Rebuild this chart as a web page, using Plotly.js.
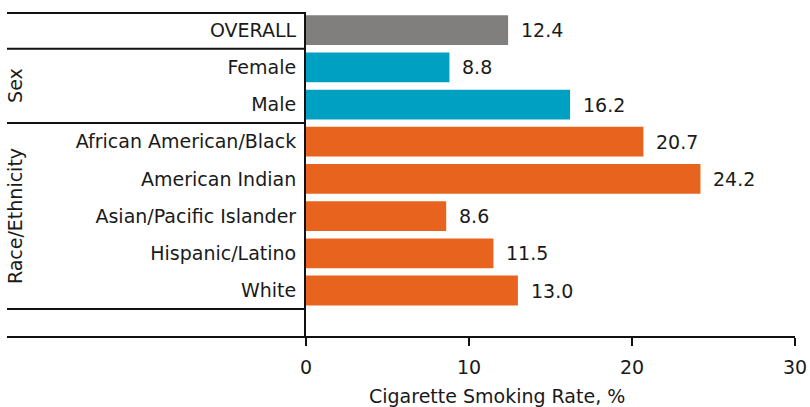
<!DOCTYPE html>
<html>
<head>
<meta charset="utf-8">
<script src="https://cdn.plot.ly/plotly-3.0.1.min.js"></script>
<style>
  html, body { margin: 0; padding: 0; background: #fff; }
  #chart { width: 810px; height: 407px; }
</style>
</head>
<body>
<div id="chart"></div>
<script>
// Cigarette smoking rate by group
const categories = ["OVERALL", "Female", "Male", "African American/Black", "American Indian",
                    "Asian/Pacific Islander", "Hispanic/Latino", "White"];
const rates = [12.4, 8.8, 16.2, 20.7, 24.2, 8.6, 11.5, 13.0];
const groupOf = ["overall", "sex", "sex", "race", "race", "race", "race", "race"];
const groupTitles = { sex: "Sex", race: "Race/Ethnicity" };
const xTicks = [0, 10, 20, 30];
const xTitle = "Cigarette Smoking Rate, %";

const palette = { overall: "#807f7d", sex: "#00a0c3", race: "#e8641e" };
const FONT = "DejaVu Sans, sans-serif";
const FS = 19;
const TXT = "#1a1a1a";

// y range in category index units (reversed so first row is on top)
const yTop = -0.46, yBottom = 8.25;
const yFrac = v => (yBottom - v) / (yBottom - yTop);

const plotLeft = 306, plotRight = 795;
const leftEdge = 7;
const xLeftPaper = (leftEdge - plotLeft) / (plotRight - plotLeft);

const idx = categories.map((_, i) => i);

const trace = {
  type: "bar",
  orientation: "h",
  y: idx,
  x: rates,
  width: 0.8,
  marker: { color: groupOf.map(g => palette[g]), line: { width: 0 } },
  hoverinfo: "skip"
};

// separators between groups (left panel) and outer frame lines
const lineStyle = { color: "#111", width: 2 };
const shapes = [];
[yTop, 0.5, 2.5, 7.5].forEach(v => {
  shapes.push({ type: "line", xref: "paper", yref: "paper",
    x0: xLeftPaper, x1: 0, y0: yFrac(v), y1: yFrac(v), line: lineStyle });
});
// bottom baseline running across the whole width
shapes.push({ type: "line", xref: "paper", yref: "paper",
  x0: xLeftPaper, x1: 1, y0: 0, y1: 0, line: lineStyle });

const annotations = [];
// value labels
rates.forEach((r, i) => {
  annotations.push({ x: r, y: i, xref: "x", yref: "y", text: r.toFixed(1),
    showarrow: false, xanchor: "left", yanchor: "middle", xshift: 11,
    font: { family: FONT, size: FS, color: TXT } });
});
// group titles on the left, centred on their block of rows
const groupCentre = { sex: 1.5, race: 5.0 };
Object.keys(groupTitles).forEach(g => {
  annotations.push({ xref: "paper", yref: "paper", x: (15 - plotLeft) / (plotRight - plotLeft),
    y: yFrac(groupCentre[g]), text: groupTitles[g], textangle: -90, showarrow: false,
    xanchor: "center", yanchor: "middle",
    font: { family: FONT, size: FS, color: TXT } });
});
// axis title
annotations.push({ xref: "paper", yref: "paper", x: (497 - plotLeft) / (plotRight - plotLeft),
  y: 0, yshift: -59, text: xTitle, showarrow: false, xanchor: "center", yanchor: "middle",
  font: { family: FONT, size: FS, color: TXT } });

const layout = {
  width: 810, height: 407,
  margin: { l: plotLeft, r: 810 - plotRight, t: 13, b: 70, pad: 0 },
  paper_bgcolor: "#fff", plot_bgcolor: "#fff",
  showlegend: false,
  font: { family: FONT, size: FS, color: TXT },
  xaxis: {
    range: [0, 30], tickvals: xTicks, ticktext: xTicks.map(String),
    showgrid: false, zeroline: false, showline: false,
    ticks: "outside", ticklen: 8, tickwidth: 2, tickcolor: "#111",
    ticklabelstandoff: 5,
    tickfont: { family: FONT, size: FS, color: TXT }, fixedrange: true
  },
  yaxis: {
    range: [yBottom, yTop], tickvals: idx, ticktext: categories,
    showgrid: false, zeroline: false, showline: true, linecolor: "#111", linewidth: 2,
    ticks: "", ticklabelstandoff: 4,
    tickfont: { family: FONT, size: FS, color: TXT }, fixedrange: true
  },
  shapes, annotations
};

Plotly.newPlot("chart", [trace], layout, { displayModeBar: false, staticPlot: true });
</script>
</body>
</html>
